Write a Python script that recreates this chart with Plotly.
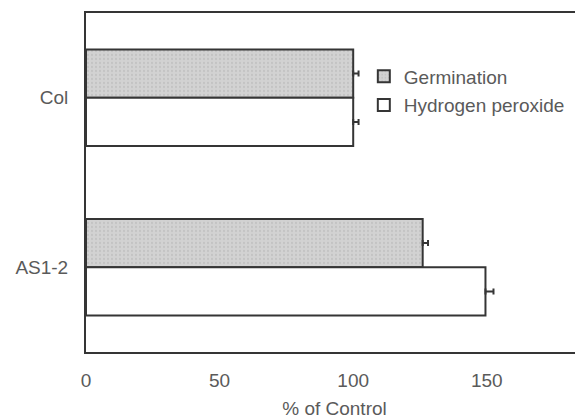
import plotly.graph_objects as go

categories = ["Col", "AS1-2"]
germination = [100, 126]
germination_err = [2, 2]
hydrogen_peroxide = [100, 149.5]
hydrogen_peroxide_err = [2, 3]
x_ticks = [0, 50, 100, 150]

line_col = "#353535"
text_col = "#5a5a5a"
font_family = "Liberation Sans, Arial, Helvetica, sans-serif"

fig = go.Figure()
fig.add_trace(go.Bar(
    y=categories, x=germination, orientation="h", name="Germination",
    legendgroup="g",
    marker=dict(color="#cdcdcd", line=dict(color=line_col, width=2),
                pattern=dict(shape=".", fgcolor="#b4b4b4", bgcolor="#d2d2d2",
                             size=4, solidity=0.25)),
    error_x=dict(type="data", array=germination_err, arrayminus=[0, 0],
                 color=line_col, thickness=2, width=3),
))
fig.add_trace(go.Bar(
    y=categories, x=hydrogen_peroxide, orientation="h", name="Hydrogen peroxide",
    legendgroup="h",
    marker=dict(color="white", line=dict(color=line_col, width=2)),
    error_x=dict(type="data", array=hydrogen_peroxide_err, arrayminus=[0, 0],
                 color=line_col, thickness=2, width=3),
))

# page body has an 8px margin, so the figure is sized to fit the window
fig.update_layout(
    width=575, height=411,
    margin=dict(l=78, r=0, t=5, b=67, autoexpand=False),
    paper_bgcolor="white", plot_bgcolor="white",
    font=dict(family=font_family, size=19, color=text_col),
    barmode="group", bargap=0.43, bargroupgap=0,
    showlegend=True,
    legend=dict(x=0.559, y=0.869, xanchor="left", yanchor="top",
                bgcolor="rgba(0,0,0,0)", traceorder="grouped",
                tracegroupgap=1, font=dict(size=19, color=text_col)),
)
fig.update_xaxes(
    range=[0, 186], tickvals=x_ticks, ticktext=[str(v) for v in x_ticks],
    showgrid=False, zeroline=False, showline=True, mirror=True,
    linecolor=line_col, linewidth=2, ticks="", ticklabelstandoff=10,
    automargin=False,
    title=dict(text="% of Control", standoff=13, font=dict(size=19, color=text_col)),
)
fig.update_yaxes(
    categoryorder="array", categoryarray=categories, autorange="reversed",
    showgrid=False, zeroline=False, showline=True, mirror=False,
    linecolor=line_col, linewidth=2, ticks="", ticklabelstandoff=12,
    automargin=False,
)

fig.write_html("out.html")
